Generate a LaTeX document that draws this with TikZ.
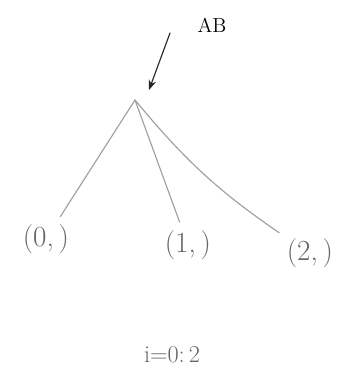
\documentclass[tikz,border=0pt]{standalone}
\usepackage{amsmath,amssymb}
\usepackage{tikz}
\usetikzlibrary{arrows.meta}
\usepackage{xcolor}

\begin{document}
\begin{tikzpicture}[>={Stealth[length=2.5mm]},line cap=round,
  leaf/.style={font=\huge,text=gray!80!black,inner sep=2pt},
  edge/.style={gray!75,thick,shorten >=4pt}]
\useasboundingbox[fill=white] (0,0) rectangle (8.85,9.775);
\coordinate (root) at (3.375,7.275);
\coordinate (tail) at (4.25,8.95);
\node[font=\Large] (ab) at (5.3,9.15) {AB};
\draw[->,thick,black!85] (tail) -- ([shift={(0.35,0.25)}]root);
\node[leaf] (l0) at (1.15,3.8) {(0,\,)};
\node[leaf] (l1) at (4.7,3.65) {(1,\,)};
\node[leaf] (l2) at (7.75,3.45) {(2,\,)};
\draw[edge] (root) -- (l0);
\draw[edge] (root) -- (l1);
\draw[edge] (root) to[bend right=8] (l2);
\node[leaf,font=\LARGE] (rng) at (4.3,0.9) {i=0:\,2};
\end{tikzpicture}
\end{document}
